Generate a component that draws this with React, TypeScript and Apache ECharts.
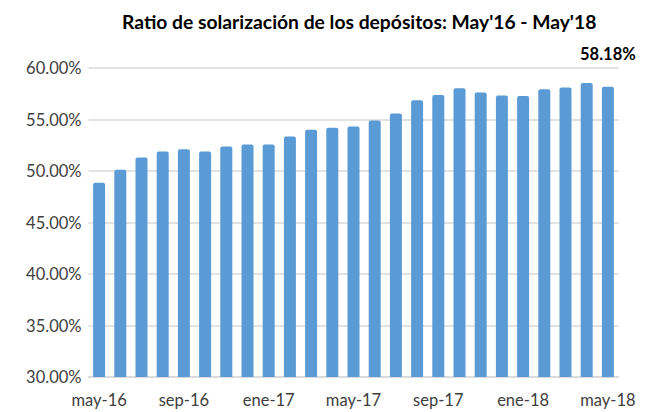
import React, { useEffect, useRef } from "react";
import * as echarts from "echarts";

const categories = [
  "may-16", "jun-16", "jul-16", "ago-16", "sep-16", "oct-16", "nov-16", "dic-16",
  "ene-17", "feb-17", "mar-17", "abr-17", "may-17", "jun-17", "jul-17", "ago-17",
  "sep-17", "oct-17", "nov-17", "dic-17", "ene-18", "feb-18", "mar-18", "abr-18", "may-18",
];
const ratioValues = [
  48.87, 50.13, 51.32, 51.9, 52.12, 51.9, 52.38, 52.57, 52.57, 53.35, 54.0, 54.19, 54.32,
  54.9, 55.58, 56.86, 57.39, 58.03, 57.61, 57.32, 57.29, 57.93, 58.1, 58.55, 58.18,
];
const titleText = "Ratio de solarización de los depósitos: May'16 - May'18";
const FONT = "Lato, 'Liberation Sans', sans-serif";

export default function App() {
  const ref = useRef<HTMLDivElement>(null);
  useEffect(() => {
    const chart = echarts.init(ref.current!, null, { renderer: "svg" });
    const last = ratioValues.length - 1;
    chart.setOption({
      animation: false,
      backgroundColor: "#ffffff",
      title: {
        text: titleText,
        left: 117,
        top: 7,
        textStyle: { fontFamily: FONT, fontSize: 19.3, fontWeight: "bold", color: "#000000" },
      },
      grid: { left: 88.5, right: 32.5, top: 68, bottom: 35, containLabel: false },
      xAxis: {
        type: "category",
        data: categories,
        axisLine: { show: true, lineStyle: { color: "#d9d9d9", width: 1.5 } },
        axisTick: { show: false },
        axisLabel: {
          interval: 3,
          fontFamily: FONT,
          fontSize: 16.5,
          color: "#404040",
          margin: 14,
        },
      },
      yAxis: {
        type: "value",
        min: 30,
        max: 60,
        interval: 5,
        axisLine: { show: false },
        axisTick: { show: false },
        splitLine: { lineStyle: { color: "#d9d9d9", width: 1.5 } },
        axisLabel: {
          formatter: (v: number) => v.toFixed(2) + "%",
          fontFamily: FONT,
          fontSize: 16.5,
          color: "#404040",
          margin: 7,
        },
      },
      series: [
        {
          type: "bar",
          data: ratioValues.map((v, i) =>
            i === last
              ? {
                  value: v,
                  label: {
                    show: true,
                    position: "top",
                    distance: 24,
                    formatter: (p: any) => p.value.toFixed(2) + "%",
                    fontFamily: FONT,
                    fontSize: 16.5,
                    fontWeight: "bold",
                    color: "#000000",
                  },
                }
              : v
          ),
          barWidth: 12,
          itemStyle: { color: "#5b9bd5", borderRadius: [2, 2, 0, 0] },
        },
      ],
    });
    return () => chart.dispose();
  }, []);
  return <div ref={ref} style={{ width: 651, height: 412, position: "absolute", left: 0, top: 0 }} />;
}
